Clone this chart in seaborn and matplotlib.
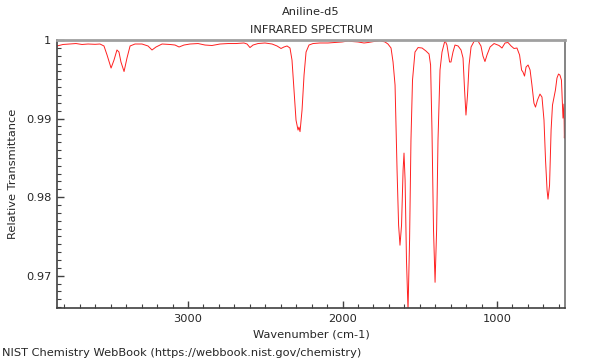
import matplotlib
matplotlib.use("Agg")
import matplotlib.pyplot as plt
import matplotlib.ticker as mticker
import seaborn as sns
import pandas as pd

title_main = "Aniline-d5"
title_sub = "INFRARED SPECTRUM"
xlabel = "Wavenumber (cm-1)"
ylabel = "Relative Transmittance"
credit = "NIST Chemistry WebBook (https://webbook.nist.gov/chemistry)"

wavenumber = [
    3848, 3809, 3764, 3725, 3686, 3647, 3602, 3570, 3544, 3524, 3498, 3479, 3460, 3447,
    3434, 3414, 3395, 3375, 3343, 3298, 3259, 3233, 3207, 3168, 3117, 3084, 3058, 3026,
    2987, 2935, 2890, 2845, 2793, 2741, 2689, 2638, 2618, 2599, 2579, 2547, 2502, 2456,
    2424, 2398, 2379, 2359, 2340, 2327, 2314, 2301, 2288, 2282, 2275, 2262, 2249, 2236,
    2217, 2191, 2146, 2094, 2049, 2003, 1964, 1939, 1900, 1861, 1835, 1796, 1757, 1725,
    1706, 1686, 1673, 1660, 1647, 1637, 1628, 1618, 1608, 1602, 1595, 1586, 1576, 1566,
    1557, 1547, 1531, 1511, 1485, 1460, 1440, 1430, 1421, 1411, 1401, 1391, 1382, 1369,
    1356, 1337, 1324, 1307, 1298, 1285, 1272, 1252, 1233, 1220, 1210, 1201, 1191, 1181,
    1168, 1149, 1123, 1104, 1091, 1078, 1065, 1045, 1019, 987, 968, 948, 929, 909, 890,
    871, 854, 841, 832, 822, 812, 799, 786, 774, 761, 751, 738, 722, 709, 696, 686, 676,
    670, 660, 650, 641, 631, 622, 612, 602, 593, 583, 573, 567, 564, 560,
]
transmittance = [
    0.99924, 0.99943, 0.99949, 0.99955, 0.99943, 0.99949, 0.99945, 0.99949, 0.99924, 0.99809,
    0.99643, 0.99745, 0.99873, 0.99847, 0.99720, 0.99599, 0.99771, 0.99924, 0.99949, 0.99949,
    0.99924, 0.99873, 0.99911, 0.99949, 0.99943, 0.99936, 0.99911, 0.99936, 0.99949, 0.99955,
    0.99936, 0.99930, 0.99949, 0.99955, 0.99955, 0.99962, 0.99949, 0.99904, 0.99936, 0.99955,
    0.99962, 0.99949, 0.99924, 0.99892, 0.99911, 0.99924, 0.99898, 0.99745, 0.99363, 0.98981,
    0.98854, 0.98892, 0.98834, 0.99108, 0.99554, 0.99847, 0.99936, 0.99955, 0.99962, 0.99962,
    0.99968, 0.99975, 0.99987, 0.99981, 0.99975, 0.99962, 0.99968, 0.99981, 0.99991, 0.99975,
    0.99949, 0.99898, 0.99720, 0.99427, 0.98344, 0.97643, 0.97389, 0.97643, 0.98344, 0.98561,
    0.98217, 0.97197, 0.96561, 0.97452, 0.98726, 0.99490, 0.99847, 0.99904, 0.99898, 0.99860,
    0.99822, 0.99682, 0.98854, 0.97580, 0.96917, 0.97580, 0.98726, 0.99618, 0.99847, 0.99994,
    0.99936, 0.99720, 0.99720, 0.99847, 0.99936, 0.99924, 0.99873, 0.99771, 0.99363, 0.99045,
    0.99299, 0.99682, 0.99911, 0.99981, 0.99987, 0.99924, 0.99796, 0.99726, 0.99809, 0.99911,
    0.99955, 0.99930, 0.99898, 0.99962, 0.99968, 0.99924, 0.99892, 0.99898, 0.99809, 0.99618,
    0.99592, 0.99541, 0.99656, 0.99682, 0.99618, 0.99427, 0.99197, 0.99146, 0.99236, 0.99312,
    0.99274, 0.98981, 0.98471, 0.98089, 0.97975, 0.98153, 0.98854, 0.99172, 0.99274, 0.99363,
    0.99516, 0.99567, 0.99554, 0.99490, 0.99006, 0.99185, 0.98752, 0.99006,
]

x_limits = (3848, 560)
y_limits = (0.9659, 1.0)
x_major = [3000, 2000, 1000]
y_major = [0.97, 0.98, 0.99, 1.0]

df = pd.DataFrame({"wn": wavenumber, "T": transmittance})

sns.set_style("ticks")
plt.rcParams["font.family"] = ["DejaVu Sans"]
fs = 8.2

fig = plt.figure(figsize=(6, 3.6), dpi=100)
ax = fig.add_axes([57 / 600, 1 - 308 / 360, (565 - 57) / 600, (308 - 40) / 360])

sns.lineplot(data=df, x="wn", y="T", ax=ax, color="#ff2020", linewidth=0.7,
             estimator=None, sort=False)

ax.set_xlim(*x_limits)
ax.set_ylim(*y_limits)
ax.xaxis.set_major_locator(mticker.FixedLocator(x_major))
ax.xaxis.set_minor_locator(mticker.MultipleLocator(100))
ax.yaxis.set_major_locator(mticker.FixedLocator(y_major))
ax.yaxis.set_minor_locator(mticker.MultipleLocator(0.001))
ax.xaxis.set_major_formatter(mticker.FuncFormatter(lambda v, p: f"{v:g}"))
ax.yaxis.set_major_formatter(mticker.FuncFormatter(lambda v, p: f"{v:g}"))

ax.tick_params(axis="both", which="major", direction="in", length=5, width=1,
               labelsize=fs, color="#404040", pad=4)
ax.tick_params(axis="both", which="minor", direction="in", length=3, width=0.8,
               color="#404040")
ax.tick_params(top=False, right=False, which="both")

for side in ["left", "bottom"]:
    ax.spines[side].set_color("#404040")
    ax.spines[side].set_linewidth(1.2)
ax.spines["top"].set_color("#a0a0a0")
ax.spines["top"].set_linewidth(2)
ax.spines["right"].set_color("#707070")
ax.spines["right"].set_linewidth(1.2)
ax.spines["top"].set_visible(True)
ax.spines["right"].set_visible(True)

ax.set_xlabel(xlabel, fontsize=fs, labelpad=4)
ax.set_ylabel(ylabel, fontsize=fs, labelpad=6)

cx = (57 + 565) / 2 / 600
fig.text(cx, 1 - 12 / 360, title_main, ha="center", va="center", fontsize=fs)
fig.text(cx, 1 - 30 / 360, title_sub, ha="center", va="center", fontsize=fs)
fig.text(2 / 600, 1 - 353 / 360, credit, ha="left", va="center", fontsize=fs)

fig.savefig("out.png", dpi=100)
